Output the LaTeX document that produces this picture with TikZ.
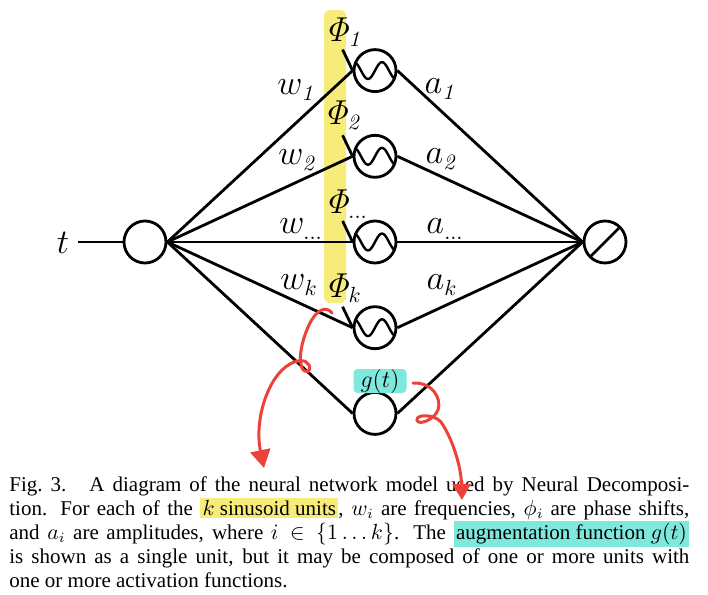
\documentclass[tikz,border=0pt]{standalone}
\usepackage[no-math]{fontspec}
\setmainfont{Liberation Serif}
\usetikzlibrary{positioning, arrows.meta}

\definecolor{hlyellow}{RGB}{247,236,122}
\definecolor{hlcyan}{RGB}{126,232,220}
\definecolor{penred}{RGB}{236,66,58}

\newcommand{\hlbox}[2]{{\setlength{\fboxsep}{1.2pt}\smash{\colorbox{#1}{#2}}}}

\begin{document}
\begin{tikzpicture}[x=0.5pt, y=-0.5pt, line width=1.4pt, node distance=42.85pt, on grid,
    unit/.style={circle, draw, minimum size=21pt, inner sep=0pt},
    sine/.style={unit, path picture={\draw[line width=1.2pt, shift={(path picture bounding box.center)}]
        plot[domain=-11:11, samples=45, smooth] ({\x pt},{4.2pt*sin(25.7*\x)});}},
    lin/.style={unit, path picture={\draw
        (path picture bounding box.south west) -- (path picture bounding box.north east);}},
    lab/.style={font=\fontsize{16}{18}\selectfont, inner sep=0pt},
    glab/.style={fill=hlcyan, rounded corners=2pt, minimum width=26.5pt, minimum height=12pt,
        inner sep=0pt, font=\fontsize{12.5}{14}\selectfont},
    caption/.style={anchor=north west, inner sep=0pt, text width=340pt, align=justify,
        font=\fontsize{10.5}{12.1}\selectfont},
    pen/.style={penred, line width=1.5pt, line cap=round}]
  \useasboundingbox (0,0) rectangle (708,595);
  % phase column
  \fill[hlyellow, rounded corners=3pt] (324,10) rectangle (346,303);

  \node[unit] (in) at (145,242) {};
  \node[sine] (s3) at (375,242) {};
  \node[sine] (s2) [above=of s3] {};
  \node[sine] (s1) [above=of s2] {};
  \node[sine] (s4) [below=of s3] {};
  \node[unit] (g) [below=of s4] {};
  \node[lin] (out) [right=115pt of s3] {};

  \node[lab] (t) at (63,243) {$t$};
  \coordinate (tin) at (78,242);
  \draw (tin) -- (in);

  \path
    (in.east) edge (s1.west)
              edge (s2.west)
              edge (s3.west)
              edge (s4.west)
              edge (g.west)
    (out.west) edge (s1.east)
               edge (s2.east)
               edge (s3.east)
               edge (s4.east)
               edge (g.east);
  \foreach \s in {s1,s2,s3,s4}
    \draw (\s.west) -- ++(-5pt,10.5pt);

  \node[lab] (w1) at (297,90) {$w_{\mathit{1}}$};
  \node[lab] (w2) at (298,160) {$w_{\mathit{2}}$};
  \node[lab] (wd) at (301,229) {$w_{\dots}$};
  \node[lab] (wk) at (299,285) {$w_k$};
  \node[lab] (p1) at (344,32) {$\mathit{\Phi}_{\mathit{1}}$};
  \node[lab] (p2) at (343,115) {$\mathit{\Phi}_{\mathit{2}}$};
  \node[lab] (pd) at (346,204) {$\mathit{\Phi}_{\dots}$};
  \node[lab] (pk) at (343,288) {$\mathit{\Phi}_k$};
  \node[lab] (a1) at (441,89) {$a_{\mathit{1}}$};
  \node[lab] (a2) at (442,159) {$a_{\mathit{2}}$};
  \node[lab] (ad) at (445,229) {$a_{\dots}$};
  \node[lab] (ak) at (442,285) {$a_k$};
  \node[glab] (gt) at (380,381) {$g(t)$};

  \node[caption] (cap) at (8,475) {Fig.~3.\hspace{1.1em}A diagram of the neural network model used by Neural Decomposi-\linebreak
    tion. For each of the \hlbox{hlyellow}{$k$ sinusoid units}, $w_i$ are frequencies, $\phi_i$ are phase shifts,\linebreak
    and $a_i$ are amplitudes, where $i \in \{1\dots k\}$. The \hlbox{hlcyan}{augmentation function $g(t)$}\linebreak
    is shown as a single unit, but it may be composed of one or more units with\linebreak
    one or more activation functions.};

  % scribbled arrows
  \coordinate (r1) at (332,313);
  \coordinate (r1end) at (264,468);
  \draw[pen, -{Triangle[length=9pt,width=10pt]}] (r1)
    .. controls (326,305) and (316,310) .. (309,325)
    .. controls (302,340) and (298,358) .. (302,368)
    .. controls (305,374) and (312,372) .. (309,365)
    .. controls (306,359) and (297,360) .. (290,364)
    .. controls (268,376) and (254,420) .. (r1end);
  \coordinate (r2) at (413,383);
  \coordinate (r2end) at (462,500);
  \draw[pen, -{Triangle[length=8pt,width=9pt]}] (r2)
    .. controls (432,382) and (442,398) .. (438,410)
    .. controls (434,420) and (418,426) .. (417,420)
    .. controls (416,414) and (434,414) .. (441,422)
    .. controls (452,438) and (461,465) .. (r2end);
\end{tikzpicture}
\end{document}
